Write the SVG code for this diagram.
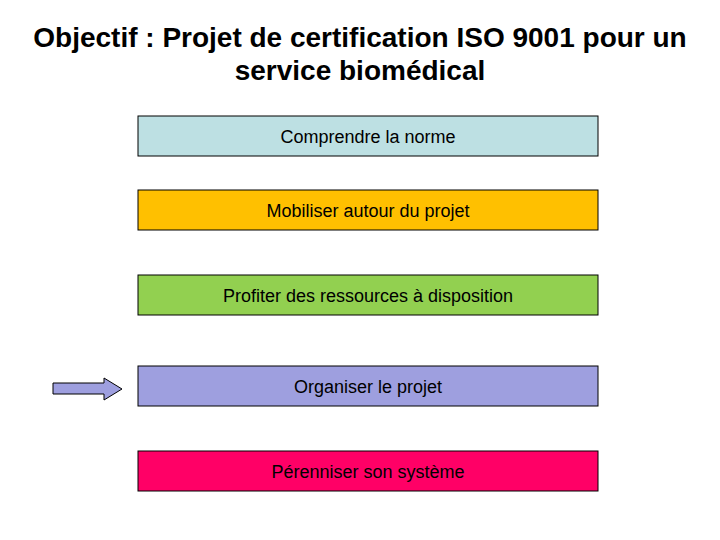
<svg xmlns="http://www.w3.org/2000/svg" width="720" height="540" viewBox="0 0 720 540">
<style>
.t{font-family:"Liberation Sans",Arial,sans-serif;font-weight:bold;font-size:28px;fill:#000;text-anchor:middle}
.b{stroke:#000;stroke-width:1}
.l{font-family:"Liberation Sans",Arial,sans-serif;font-size:18px;fill:#000;text-anchor:middle}
</style>
<rect width="720" height="540" fill="#fff"/>
<text class="t" x="360" y="47">Objectif : Projet de certification ISO 9001 pour un</text>
<text class="t" x="360" y="80">service biomédical</text>
<g id="n1"><rect class="b" x="138" y="116" width="460" height="40" fill="#bde0e3"/><text class="l" x="368" y="143">Comprendre la norme</text></g>
<g id="n2"><rect class="b" x="138" y="190" width="460" height="40" fill="#ffc000"/><text class="l" x="368" y="217">Mobiliser autour du projet</text></g>
<g id="n3"><rect class="b" x="138" y="275" width="460" height="40" fill="#92d050"/><text class="l" x="368" y="302">Profiter des ressources à disposition</text></g>
<g id="n4"><rect class="b" x="138" y="366" width="460" height="40" fill="#9e9fdf"/><text class="l" x="368" y="393">Organiser le projet</text></g>
<g id="n5"><rect class="b" x="138" y="451" width="460" height="40" fill="#ff0066"/><text class="l" x="368" y="478">Pérenniser son système</text></g>
<g id="connectors"><polygon points="53,383 104,383 104,378 122,389 104,400 104,394 53,394" fill="#9e9fdf" stroke="#000" stroke-width="1"/></g>
</svg>
